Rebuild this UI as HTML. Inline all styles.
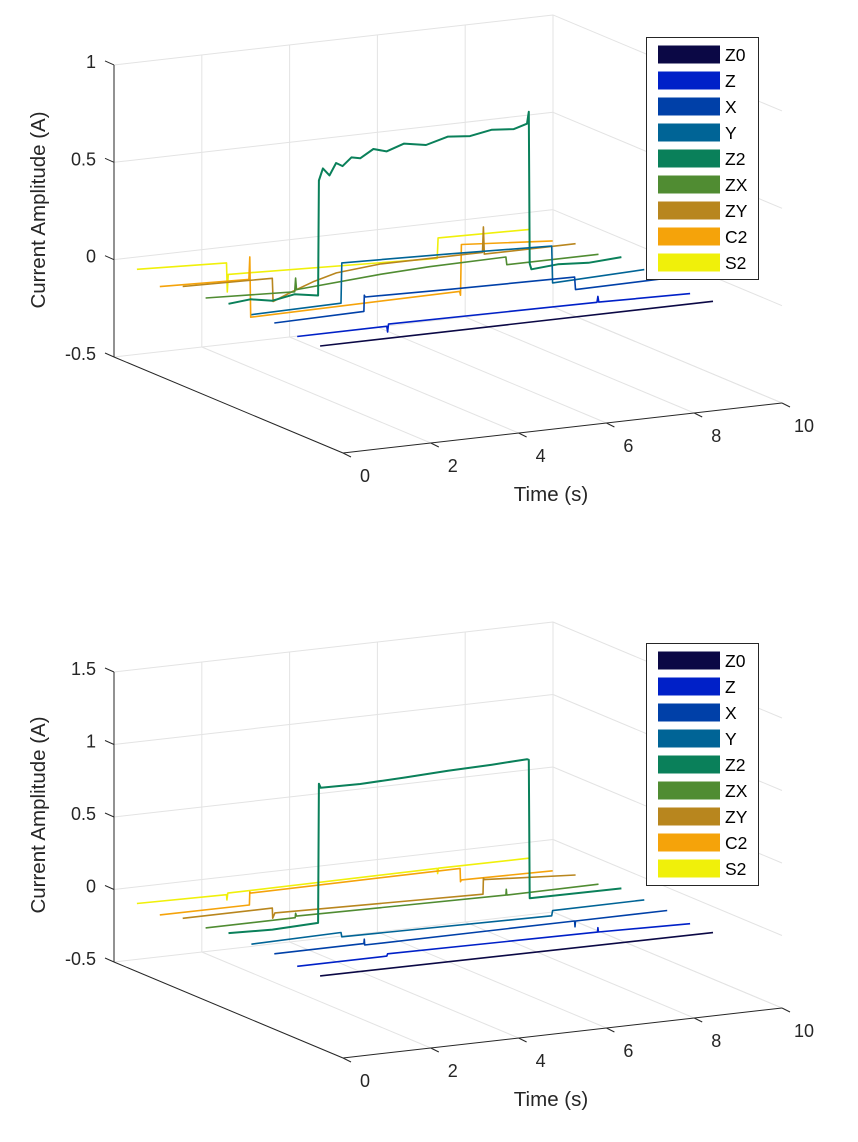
<!DOCTYPE html>
<html><head><meta charset="utf-8"><style>
html,body{margin:0;padding:0;background:#fff;}
svg{display:block;font-family:"Liberation Sans",Arial,sans-serif;}
</style></head><body>
<svg id="chart" width="858" height="1142" viewBox="0 0 858 1142" xmlns="http://www.w3.org/2000/svg">
<rect width="858" height="1142" fill="#fff"/>
<g id="p0"></g>
<g id="p1"></g>
</svg>
<script>
const seriesNames = ["Z0","Z","X","Y","Z2","ZX","ZY","C2","S2"];
const seriesColors = ["#0b0845","#0020c8","#0040a8","#006496","#0a805a","#508c32","#b8861e","#f5a30a","#f0f00a"];
const timeTicks = [0,2,4,6,8,10];
const topZTicks = [-0.5,0,0.5,1];
const topZTickLabels = ["-0.5","0","0.5","1"];
const botZTicks = [-0.5,0,0.5,1,1.5];
const botZTickLabels = ["-0.5","0","0.5","1","1.5"];

// top plot data (time s, current A)
const top_Z0_t=[0,8.95]; const top_Z0_z=[0,0];
const top_Z_t=[0,2.04,2.06,2.08,6.83,6.85,6.87,8.95]; const top_Z_z=[0,0,-0.03,0.01,0,0.03,0,-0.01];
const top_X_t=[0,2.04,2.05,2.07,4,6.84,6.86,8.95]; const top_X_z=[0.02,0.027,0.11,0.1,0.09,0.08,0.015,0.02];
const top_Y_t=[0,2.04,2.06,4.5,6.84,6.86,8.95]; const top_Y_z=[0.013,0.02,0.226,0.21,0.19,0.0,0.015];
const top_Z2_t=[0,0.5,1,1.5,2.04,2.06,2.15,2.3,2.45,2.6,2.8,3.0,3.3,3.6,4.0,4.5,5.0,5.5,6.0,6.5,6.8,6.84,6.86,6.9,7.5,8.2,8.95];
const top_Z2_z=[0.02,0.03,0.01,0.03,0.01,0.6,0.66,0.62,0.68,0.66,0.7,0.69,0.73,0.71,0.74,0.72,0.75,0.74,0.76,0.75,0.77,0.83,0.05,0.02,0.03,0.02,0.03];
const top_ZX_t=[0,2.03,2.05,2.07,4,5.1,6.84,6.86,8.95]; const top_ZX_z=[0,-0.02,0.05,-0.01,0.02,0.03,0.035,-0.005,-0.005];
const top_ZY_t=[0,2.04,2.06,2.5,3,3.5,4.5,6.83,6.85,6.87,8.95]; const top_ZY_z=[0.01,0,-0.12,-0.08,-0.04,-0.01,0.01,0.01,0.14,0.0,0.0];
const top_C2_t=[0,2.03,2.05,2.07,6.83,6.85,6.87,8.95]; const top_C2_z=[-0.04,-0.055,0.06,-0.25,-0.24,-0.26,0.0,-0.035];
const top_S2_t=[0,2.04,2.06,2.08,6.84,6.86,8.95]; const top_S2_z=[0,-0.02,-0.17,-0.08,-0.12,-0.015,-0.025];

// bottom plot data
const bot_Z0_t=[0,8.95]; const bot_Z0_z=[0,-0.01];
const bot_Z_t=[0,2.04,2.06,6.84,6.85,6.86,8.95]; const bot_Z_z=[0,0,0.015,0.0,0.03,0.0,-0.015];
const bot_X_t=[0,2.04,2.05,2.06,6.84,6.85,6.86,8.95]; const bot_X_z=[0.02,0.02,0.05,0.01,0.01,-0.03,0.01,0.01];
const bot_Y_t=[0,2.04,2.06,6.84,6.86,8.95]; const bot_Y_z=[0.02,0.03,0.0,-0.02,0.015,0.017];
const bot_Z2_t=[0,1,2.04,2.06,2.1,3,4,5,6,6.8,6.84,6.86,8.95]; const bot_Z2_z=[0.03,0.02,0.03,0.99,0.96,0.955,0.965,0.977,0.985,0.995,0.99,0.034,0.03];
const bot_ZX_t=[0,2.04,2.05,2.07,6.84,6.85,6.86,8.95]; const bot_ZX_z=[0,0,0.03,0.01,-0.01,0.03,-0.01,-0.007];
const bot_ZY_t=[0,2.04,2.05,2.1,6.84,6.85,6.87,8.95]; const bot_ZY_z=[0,0,-0.07,-0.035,-0.07,0.04,0.03,-0.01];
const bot_C2_t=[0,2.04,2.05,2.07,6.84,6.85,6.87,8.95]; const bot_C2_z=[-0.043,-0.045,0.045,0.036,0.042,-0.05,-0.038,-0.047];
const bot_S2_t=[0,2.04,2.05,2.07,6.84,6.85,6.87,8.95]; const bot_S2_z=[-0.03,-0.04,-0.077,-0.03,-0.024,-0.06,-0.024,-0.026];

const topT=[top_Z0_t,top_Z_t,top_X_t,top_Y_t,top_Z2_t,top_ZX_t,top_ZY_t,top_C2_t,top_S2_t];
const topZ=[top_Z0_z,top_Z_z,top_X_z,top_Y_z,top_Z2_z,top_ZX_z,top_ZY_z,top_C2_z,top_S2_z];
const botT=[bot_Z0_t,bot_Z_t,bot_X_t,bot_Y_t,bot_Z2_t,bot_ZX_t,bot_ZY_t,bot_C2_t,bot_S2_t];
const botZ=[bot_Z0_z,bot_Z_z,bot_X_z,bot_Y_z,bot_Z2_z,bot_ZX_z,bot_ZY_z,bot_C2_z,bot_S2_z];

const NS="http://www.w3.org/2000/svg";
function mk(parent,tag,attrs,text){const e=document.createElementNS(NS,tag);for(const k in attrs)e.setAttribute(k,attrs[k]);if(text!==undefined)e.textContent=text;parent.appendChild(e);return e;}

function drawPlot(g,cfg){
  const zmin=cfg.zmin,zmax=cfg.zmax;
  function P(t,d,z){return [343+43.9*t-229*d, cfg.base-5*t-96*d-cfg.zs*(z-zmin)];}
  function ln(a,b,stroke,w,name){const e=mk(g,'line',{x1:a[0],y1:a[1],x2:b[0],y2:b[1],stroke:stroke,'stroke-width':w});
    
    return e;}
  const grid="#e3e3e3";
  timeTicks.forEach(t=>{ln(P(t,1,zmin),P(t,1,zmax),grid,1,'back-wall-time-gridline');ln(P(t,1,zmin),P(t,0,zmin),grid,1,'floor-time-gridline');});
  cfg.zt.forEach(z=>{ln(P(0,1,z),P(10,1,z),grid,1,'back-wall-z-gridline');ln(P(10,1,z),P(10,0,z),grid,1,'side-wall-z-gridline');});
  const ax="#262626";
  ln(P(0,1,zmin),P(0,1,zmax),ax,1,'z-axis-line');
  ln(P(0,1,zmin),P(0,0,zmin),ax,1,'y-axis-line');
  ln(P(0,0,zmin),P(10,0,zmin),ax,1,'time-axis-line');
  cfg.zt.forEach((z,i)=>{const p=P(0,1,z);ln(p,[p[0]-9,p[1]-4],ax,1,'z-tick');
    const tx=mk(g,'text',{x:p[0]-18,y:p[1]+3,'text-anchor':'end','font-size':18,fill:'#262626'},cfg.zl[i]);
    
    });
  timeTicks.forEach(t=>{const p=P(t,0,zmin);ln(p,[p[0]+8,p[1]+4],ax,1,'time-tick');
    const tx=mk(g,'text',{x:p[0]+22,y:p[1]+29,'text-anchor':'middle','font-size':18,fill:'#262626'},String(t));
    
    });
  const xt=mk(g,'text',{x:551,y:cfg.base+48,'text-anchor':'middle','font-size':20.5,fill:'#262626'},'Time (s)');
  
  
  const yt=mk(g,'text',{x:0,y:0,'text-anchor':'middle','font-size':20.5,fill:'#262626',transform:'translate(45,'+cfg.ylabY+') rotate(-90)'},'Current Amplitude (A)');
  
  
  for(let i=8;i>=0;i--){
    const d=(i+1)/10;const ts=cfg.T[i],zs=cfg.Z[i];
    const pts=ts.map((t,k)=>P(t,d,zs[k]).map(v=>v.toFixed(1)).join(',')).join(' ');
    const pl=mk(g,'polyline',{points:pts,fill:'none',stroke:seriesColors[i],'stroke-width':i===4?2:1.6,'stroke-linejoin':'round'});
    
    
  }
  const lg=mk(g,'g',{});
  
  
  const top=cfg.legTop;
  mk(lg,'rect',{x:646.5,y:top+0.5,width:112,height:242,fill:'#fff',stroke:'#262626','stroke-width':1});
  seriesNames.forEach((n,i)=>{
    const cy=top+17.5+i*26;
    const en=mk(lg,'g',{});
    
    
    mk(en,'rect',{x:658,y:cy-9,width:62,height:18,fill:seriesColors[i]});
    mk(en,'text',{x:725,y:cy+6.5,'font-size':17.5,fill:'#000'},n);
  });
}
drawPlot(document.getElementById('p0'),{zmin:-0.5,zmax:1,base:453,zs:194.7,zt:topZTicks,zl:topZTickLabels,T:topT,Z:topZ,legTop:37,ylabY:210});
drawPlot(document.getElementById('p1'),{zmin:-0.5,zmax:1.5,base:1058,zs:145,zt:botZTicks,zl:botZTickLabels,T:botT,Z:botZ,legTop:643,ylabY:815});
</script>
</body></html>
